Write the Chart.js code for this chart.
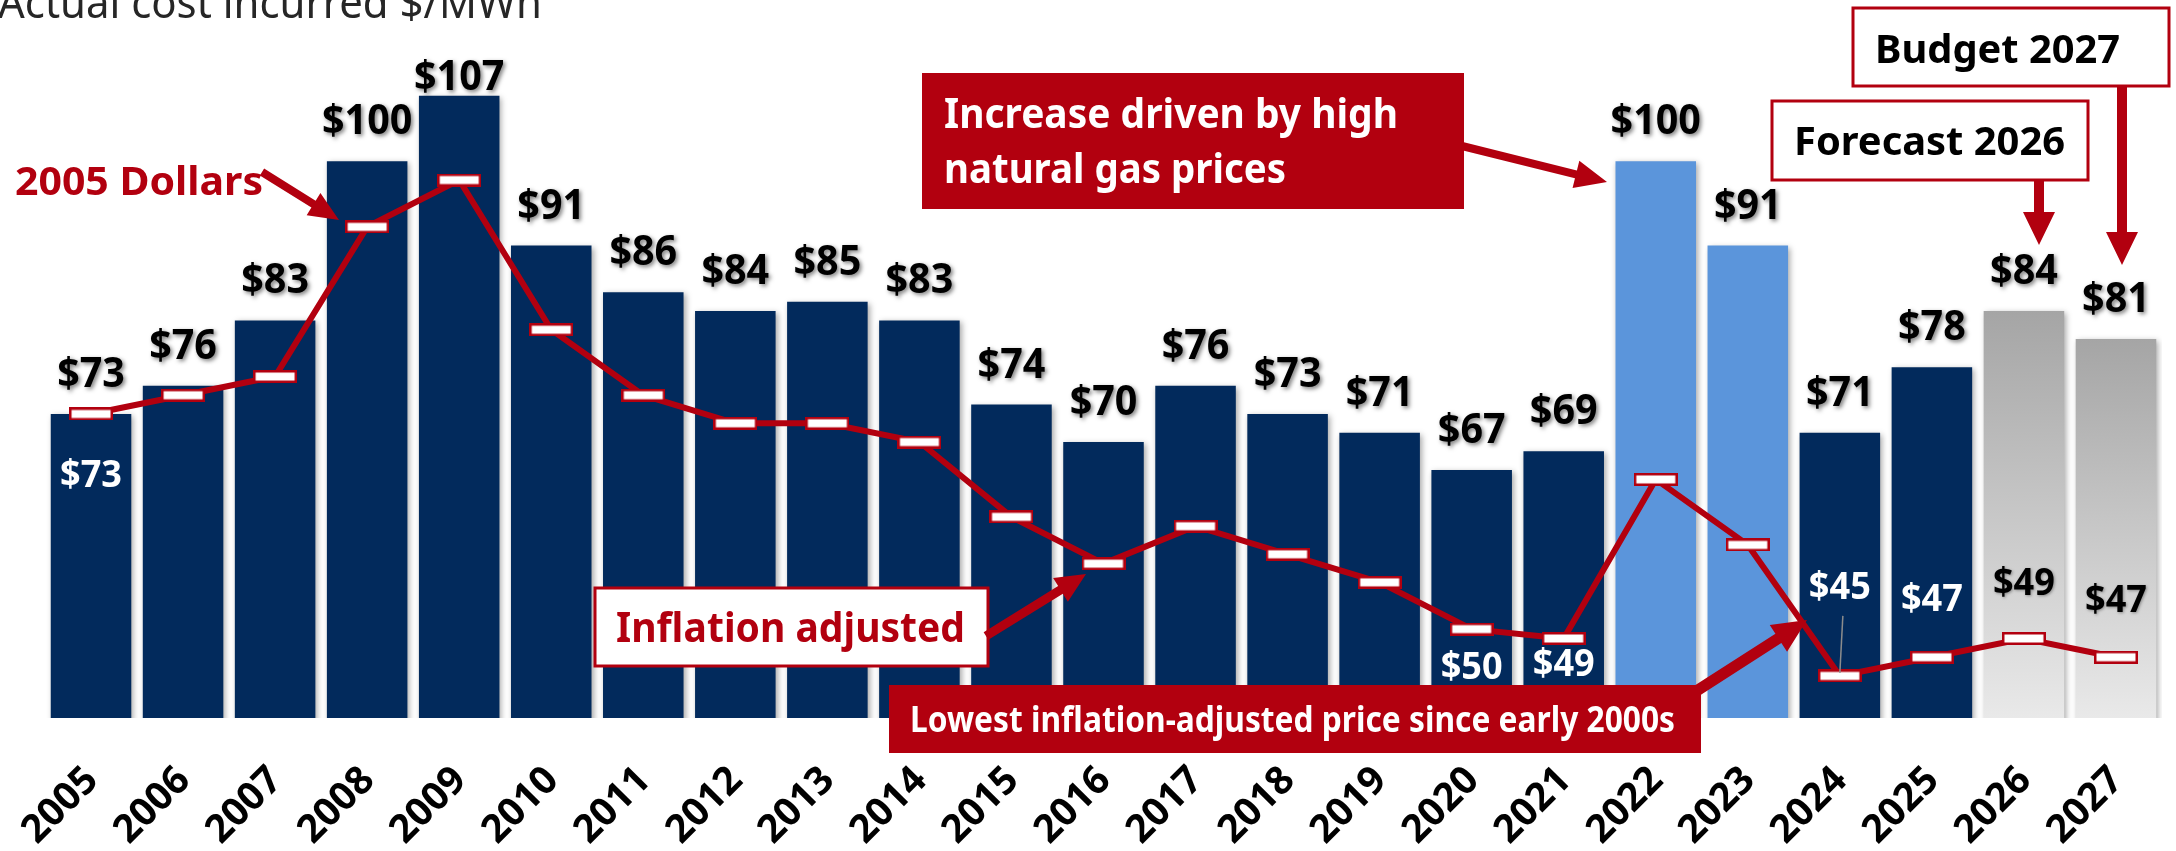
<!DOCTYPE html>
<html>
<head>
<meta charset="utf-8">
<script src="https://cdn.jsdelivr.net/npm/chart.js@4.4.1/dist/chart.umd.min.js"></script>
<style>
  html, body { margin: 0; padding: 0; background: #fff; overflow: hidden; }
  #wrap { position: relative; width: 2176px; height: 851px; }
</style>
</head>
<body>
<div id="wrap"><canvas id="grafico-custo"></canvas></div>
<script>
const years = ['2005', '2006', '2007', '2008', '2009', '2010', '2011', '2012', '2013', '2014', '2015', '2016',
               '2017', '2018', '2019', '2020', '2021', '2022', '2023', '2024', '2025', '2026', '2027'];
const actualCost = [73, 76, 83, 100, 107, 91, 86, 84, 85, 83, 74, 70, 76, 73, 71, 67, 69, 100, 91, 71, 78, 84, 81];
const inflationAdjusted = [73, 75, 77, 93, 98, 82, 75, 72, 72, 70, 62, 57, 61, 58, 55, 50, 49, 66, 59, 45, 47, 49, 47];
const gasSpikeYears = ['2022', '2023'];
const projectedYears = ['2026', '2027'];

const RED = '#B2000F';
const NAVY = '#022A5C';
const LIGHT_BLUE = '#5B95DB';
const FONT = "'Noto Sans', 'Open Sans', sans-serif";

// which inflation-adjusted values get a label, and where (baseline offset from the marker)
const lineLabels = {
    0: { dy: 73, color: '#FFFFFF' },
    15: { dy: 50, color: '#FFFFFF' },
    16: { dy: 38, color: '#FFFFFF' },
    19: { dy: -77, color: '#FFFFFF', leader: true },
    20: { dy: -46, color: '#FFFFFF' },
    21: { dy: -43, color: '#000000' },
    22: { dy: -45, color: '#000000' }
};

// white marker with red outline for the line
const marker = document.createElement('canvas');
marker.width = 44;
marker.height = 13;
(() => {
    const m = marker.getContext('2d');
    m.fillStyle = '#FFFFFF';
    m.fillRect(0, 0, 44, 13);
    m.strokeStyle = RED;
    m.lineWidth = 2.5;
    m.strokeRect(1.25, 1.25, 41.5, 10.5);
})();

function barColor(c) {
    const year = years[c.dataIndex];
    if (gasSpikeYears.includes(year)) return LIGHT_BLUE;
    if (!projectedYears.includes(year)) return NAVY;
    const { chart } = c;
    if (!chart.chartArea || !chart.scales.y) return '#BFBFBF';
    const top = chart.scales.y.getPixelForValue(actualCost[c.dataIndex]);
    const g = chart.ctx.createLinearGradient(0, top, 0, chart.chartArea.bottom);
    g.addColorStop(0, '#A5A5A5');
    g.addColorStop(1, '#E9E9E9');
    return g;
}

function fitText(ctx, text, x, y, width, font, color) {
    ctx.save();
    ctx.font = font;
    ctx.fillStyle = color;
    ctx.textAlign = 'left';
    ctx.textBaseline = 'alphabetic';
    const w = ctx.measureText(text).width;
    ctx.translate(x, y);
    ctx.scale(width / w, 1);
    ctx.fillText(text, 0, 0);
    ctx.restore();
}

// centred text, squeezed a little to get Calibri-like proportions
function squeezedText(ctx, text, x, y, squeeze) {
    ctx.save();
    ctx.translate(x, y);
    ctx.scale(squeeze, 1);
    ctx.fillText(text, 0, 0);
    ctx.restore();
}

function blockArrow(ctx, x1, y1, x2, y2, shaft, headLen, headW) {
    const ang = Math.atan2(y2 - y1, x2 - x1);
    const len = Math.hypot(x2 - x1, y2 - y1);
    ctx.save();
    ctx.translate(x1, y1);
    ctx.rotate(ang);
    ctx.beginPath();
    ctx.moveTo(0, -shaft / 2);
    ctx.lineTo(len - headLen, -shaft / 2);
    ctx.lineTo(len - headLen, -headW / 2);
    ctx.lineTo(len, 0);
    ctx.lineTo(len - headLen, headW / 2);
    ctx.lineTo(len - headLen, shaft / 2);
    ctx.lineTo(0, shaft / 2);
    ctx.closePath();
    ctx.fillStyle = RED;
    ctx.fill();
    ctx.restore();
}

function box(ctx, x, y, w, h, filled) {
    ctx.save();
    if (filled) {
        ctx.fillStyle = RED;
        ctx.fillRect(x, y, w, h);
    } else {
        ctx.fillStyle = '#FFFFFF';
        ctx.fillRect(x, y, w, h);
        ctx.strokeStyle = RED;
        ctx.lineWidth = 3;
        ctx.strokeRect(x, y, w, h);
    }
    ctx.restore();
}

const barShadow = {
    id: 'barShadow',
    beforeDatasetDraw(chart, args) {
        if (args.index !== 0) return;
        const ctx = chart.ctx;
        ctx.save();
        ctx.shadowColor = 'rgba(0, 0, 0, 0.35)';
        ctx.shadowBlur = 6;
        ctx.shadowOffsetX = 2;
        ctx.shadowOffsetY = 2;
    },
    afterDatasetDraw(chart, args) {
        if (args.index !== 0) return;
        chart.ctx.restore();
    }
};

const valueLabels = {
    id: 'valueLabels',
    afterDatasetsDraw(chart) {
        const ctx = chart.ctx;
        const bars = chart.getDatasetMeta(0).data;
        const points = chart.getDatasetMeta(1).data;

        ctx.save();
        ctx.font = `bold 42px ${FONT}`;
        ctx.textAlign = 'center';
        ctx.textBaseline = 'alphabetic';
        ctx.fillStyle = '#000000';
        ctx.shadowColor = 'rgba(0, 0, 0, 0.5)';
        ctx.shadowBlur = 4;
        ctx.shadowOffsetX = 2;
        ctx.shadowOffsetY = 2;
        bars.forEach((bar, i) => {
            const y = Math.max(bar.y - 27, chart.chartArea.top + 69);
            squeezedText(ctx, '$' + actualCost[i], bar.x, y, 0.94);
        });
        ctx.restore();

        ctx.save();
        ctx.font = `bold 38px ${FONT}`;
        ctx.textAlign = 'center';
        ctx.textBaseline = 'alphabetic';
        Object.keys(lineLabels).forEach(k => {
            const i = Number(k);
            const cfg = lineLabels[i];
            const p = points[i];
            const y = p.y + cfg.dy;
            if (cfg.leader) {
                ctx.strokeStyle = '#8C8C8C';
                ctx.lineWidth = 1.5;
                ctx.beginPath();
                ctx.moveTo(p.x + 3, y + 17);
                ctx.lineTo(p.x, p.y - 3);
                ctx.stroke();
            }
            ctx.fillStyle = cfg.color;
            if (cfg.color === '#000000') {
                ctx.shadowColor = 'rgba(0, 0, 0, 0.35)';
                ctx.shadowBlur = 3;
                ctx.shadowOffsetX = 1;
                ctx.shadowOffsetY = 1;
            } else {
                ctx.shadowColor = 'transparent';
            }
            squeezedText(ctx, '$' + inflationAdjusted[i], p.x, y, 0.95);
        });
        ctx.restore();
    }
};

// year labels under the bars, slanted 45 degrees, placed at the x scale's ticks
const yearLabels = {
    id: 'yearLabels',
    afterDraw(chart) {
        const { ctx, scales: { x } } = chart;
        ctx.save();
        ctx.font = `bold 39px ${FONT}`;
        ctx.fillStyle = '#000000';
        ctx.textAlign = 'right';
        ctx.textBaseline = 'alphabetic';
        x.ticks.forEach((t, i) => {
            ctx.save();
            ctx.translate(x.getPixelForTick(i) + 9, x.top + 64);
            ctx.rotate(-Math.PI / 4);
            ctx.fillText(x.getLabelForValue(t.value), 0, 0);
            ctx.restore();
        });
        ctx.restore();
    }
};

const callouts = {
    id: 'callouts',
    afterDraw(chart) {
        const ctx = chart.ctx;

        fitText(ctx, 'Actual cost incurred $/MWh', -2, 18, 544, `43px ${FONT}`, '#262626');

        fitText(ctx, '2005 Dollars', 15, 195, 248, `bold 40px ${FONT}`, RED);
        blockArrow(ctx, 262, 172, 339, 220, 8, 30, 26);

        box(ctx, 922, 73, 542, 136, true);
        fitText(ctx, 'Increase driven by high', 944, 128, 454, `bold 42px ${FONT}`, '#FFFFFF');
        fitText(ctx, 'natural gas prices', 944, 183, 342, `bold 42px ${FONT}`, '#FFFFFF');
        blockArrow(ctx, 1462, 146, 1607, 182, 8, 32, 28);

        box(ctx, 1853, 8, 316, 78, false);
        fitText(ctx, 'Budget 2027', 1875, 63, 245, `bold 40px ${FONT}`, '#000000');
        blockArrow(ctx, 2122, 86, 2122, 265, 10, 33, 32);

        box(ctx, 1772, 101, 316, 79, false);
        fitText(ctx, 'Forecast 2026', 1794, 155, 271, `bold 40px ${FONT}`, '#000000');
        blockArrow(ctx, 2039, 180, 2039, 245, 10, 33, 32);

        box(ctx, 595, 588, 393, 78, false);
        fitText(ctx, 'Inflation adjusted', 616, 642, 349, `bold 41px ${FONT}`, RED);
        blockArrow(ctx, 986, 636, 1086, 574, 9, 30, 28);

        box(ctx, 889, 685, 812, 68, true);
        fitText(ctx, 'Lowest inflation-adjusted price since early 2000s', 910, 732, 765, `bold 35px ${FONT}`, '#FFFFFF');
        blockArrow(ctx, 1698, 690, 1807, 620, 11, 34, 32);
    }
};

const ctx = document.getElementById('grafico-custo');

new Chart(ctx, {
    type: 'bar',
    data: {
        labels: years,
        datasets: [{
            type: 'bar',
            data: actualCost,
            backgroundColor: barColor,
            borderWidth: 0,
            barPercentage: 0.875,
            categoryPercentage: 1,
            order: 2
        }, {
            type: 'line',
            data: inflationAdjusted,
            borderColor: RED,
            borderWidth: 6,
            tension: 0,
            pointStyle: marker,
            pointRadius: 8,
            pointHoverRadius: 8,
            clip: false,
            order: 1
        }]
    },
    options: {
        responsive: true,
        maintainAspectRatio: false,
        animation: false,
        events: [],
        layout: { padding: { left: 45, right: 1, top: 21, bottom: 0 } },
        plugins: {
            legend: { display: false },
            tooltip: { enabled: false }
        },
        scales: {
            x: {
                grid: { display: false },
                border: { display: false },
                ticks: { display: false },
                afterFit(scale) {
                    scale.height = 133;
                    scale.paddingLeft = 0;
                    scale.paddingRight = 0;
                }
            },
            y: {
                display: false,
                min: 40.5,
                max: 115
            }
        }
    },
    plugins: [barShadow, valueLabels, yearLabels, callouts]
});
</script>
</body>
</html>
